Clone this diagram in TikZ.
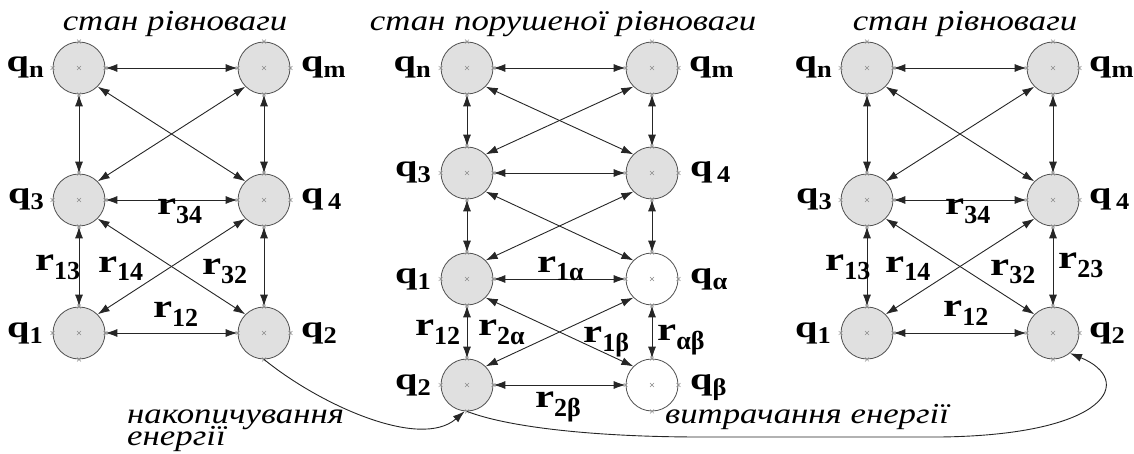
\documentclass[tikz,border=0pt]{standalone}
\usepackage{fontspec}
\usepackage{graphicx}
\setmainfont{Liberation Serif}
\usetikzlibrary{arrows.meta}
\definecolor{cfill}{RGB}{224,224,224}
\definecolor{cline}{RGB}{80,80,80}
\definecolor{cmark}{RGB}{140,140,140}
\newcommand{\ql}[1]{\bfseries\scalebox{1.3}[1]{\fontsize{31}{31}\selectfont q}\raisebox{-6pt}{\scalebox{1.1}[1]{\fontsize{24}{24}\selectfont #1}}}
\newcommand{\rl}[1]{\bfseries\scalebox{1.3}[1]{\fontsize{33}{33}\selectfont r}\raisebox{-9pt}{\fontsize{26}{26}\selectfont #1}}
\newcommand{\itx}[1]{\scalebox{1.2}[1]{\fontsize{29}{29}\selectfont\itshape #1}}
\newcommand{\mk}[1]{\foreach \a in {center,north,south,east,west}{\draw[cmark,line width=0.5pt] ([shift={(-2pt,-2pt)}]#1.\a) -- ([shift={(2pt,2pt)}]#1.\a) ([shift={(-2pt,2pt)}]#1.\a) -- ([shift={(2pt,-2pt)}]#1.\a);}}
\tikzset{
 st/.style={circle, draw=cline, fill=cfill, minimum size=52pt, inner sep=0pt, line width=0.8pt},
 stw/.style={st, fill=white},
 lk/.style={draw=black!85, line width=0.9pt, {Latex[length=12pt,width=8pt]}-{Latex[length=12pt,width=8pt]}},
 cv/.style={draw=black!85, line width=0.9pt, -{Latex[length=12pt,width=8pt]}},
 lbl/.style={inner sep=0pt, anchor=base west},
 ql/.style={inner sep=0pt},
 ttl/.style={inner sep=0pt, anchor=base},
}
\begin{document}
\begin{tikzpicture}[x=1pt,y=-1pt]
\path[use as bounding box] (0,0) rectangle (1134,454);
% ---------- left diagram
\node[st] (Ln) at (79,68) {};
\node[st] (Lm) at (264,68) {};
\node[st] (L3) at (79,200) {};
\node[st] (L4) at (264,200) {};
\node[st] (L1) at (79,333) {};
\node[st] (L2) at (264,333) {};
% ---------- middle diagram
\node[st] (Mn) at (467,68) {};
\node[st] (Mm) at (652,68) {};
\node[st] (M3) at (467,173) {};
\node[st] (M4) at (652,173) {};
\node[st] (M1) at (467,279) {};
\node[stw] (Ma) at (652,279) {};
\node[st] (M2) at (467,385) {};
\node[stw] (Mb) at (652,385) {};
% ---------- right diagram
\node[st] (Rn) at (867,68) {};
\node[st] (Rm) at (1053,68) {};
\node[st] (R3) at (867,200) {};
\node[st] (R4) at (1053,200) {};
\node[st] (R1) at (867,333) {};
\node[st] (R2) at (1053,333) {};
\foreach \n in {Ln,Lm,L3,L4,L1,L2,Mn,Mm,M3,M4,M1,Ma,M2,Mb,Rn,Rm,R3,R4,R1,R2}{\mk{\n}}
% ---------- links
\foreach \p in {L,R}{
 \draw[lk] (\p n.east) -- (\p m.west);
 \draw[lk] (\p n.south) -- (\p 3.north);
 \draw[lk] (\p m.south) -- (\p 4.north);
 \draw[lk] (\p n.-45) -- (\p 4.135);
 \draw[lk] (\p m.-135) -- (\p 3.45);
 \draw[lk] (\p 3.east) -- (\p 4.west);
 \draw[lk] (\p 3.south) -- (\p 1.north);
 \draw[lk] (\p 4.south) -- (\p 2.north);
 \draw[lk] (\p 3.-45) -- (\p 2.135);
 \draw[lk] (\p 4.-135) -- (\p 1.45);
 \draw[lk] (\p 1.east) -- (\p 2.west);
}
\draw[lk] (Mn.east) -- (Mm.west);
\draw[lk] (Mn.south) -- (M3.north);
\draw[lk] (Mm.south) -- (M4.north);
\draw[lk] (Mn.-45) -- (M4.135);
\draw[lk] (Mm.-135) -- (M3.45);
\draw[lk] (M3.east) -- (M4.west);
\draw[lk] (M3.south) -- (M1.north);
\draw[lk] (M4.south) -- (Ma.north);
\draw[lk] (M3.-45) -- (Ma.135);
\draw[lk] (M4.-135) -- (M1.45);
\draw[lk] (M1.east) -- (Ma.west);
\draw[lk] (M1.south) -- (M2.north);
\draw[lk] (Ma.south) -- (Mb.north);
\draw[lk] (M1.-45) -- (Mb.135);
\draw[lk] (Ma.-135) -- (M2.45);
\draw[lk] (M2.east) -- (Mb.west);
% ---------- curves
\coordinate (c1) at (700,437);
\coordinate (c2) at (940,437);
\draw[cv] (L2.south) .. controls (320,405) and (420,450) .. (M2.265);
\draw[cv] (M2.south) .. controls (510,428) and (600,437) .. (c1) -- (c2) .. controls (1110,435) and (1135,380) .. (R2.-50);
% ---------- q labels
\foreach \p/\dx in {L/0,R/788}{
 \node[ql,anchor=base east] (\p qn) at (44+\dx,72) {\ql{n}};
 \node[ql,anchor=base west] (\p qm) at (301+\dx,72) {\ql{m}};
 \node[ql,anchor=base east] (\p q3) at (44+\dx,204) {\ql{3}};
 \node[ql,anchor=base west] (\p q4) at (301+\dx,204) {\ql{\,4}};
 \node[ql,anchor=base east] (\p q1) at (43+\dx,337) {\ql{1}};
 \node[ql,anchor=base west] (\p q2) at (301+\dx,337) {\ql{2}};
}
\node[ql,anchor=base east] (Mqn) at (431,72) {\ql{n}};
\node[ql,anchor=base west] (Mqm) at (689,72) {\ql{m}};
\node[ql,anchor=base east] (Mq3) at (431,177) {\ql{3}};
\node[ql,anchor=base west] (Mq4) at (690,177) {\ql{\,4}};
\node[ql,anchor=base east] (Mq1) at (431,283) {\ql{1}};
\node[ql,anchor=base west] (Mqa) at (690,283) {\ql{α}};
\node[ql,anchor=base east] (Mq2) at (431,389) {\ql{2}};
\node[ql,anchor=base west] (Mqb) at (690,389) {\ql{β}};
% ---------- r labels
\node[lbl] (Lr34) at (157,215) {\rl{34}};
\node[lbl] (Lr13) at (35,270) {\rl{13}};
\node[lbl] (Lr14) at (98,272) {\rl{14}};
\node[lbl] (Lr32) at (202,274) {\rl{32}};
\node[lbl] (Lr12) at (153,317) {\rl{12}};
\node[lbl] (Rr34) at (945,215) {\rl{34}};
\node[lbl] (Rr13) at (825,270) {\rl{13}};
\node[lbl] (Rr14) at (885,272) {\rl{14}};
\node[lbl] (Rr32) at (990,275) {\rl{32}};
\node[lbl] (Rr23) at (1058,269) {\rl{23}};
\node[lbl] (Rr12) at (943,316) {\rl{12}};
\node[lbl] (Mr1a) at (537,272) {\rl{1α}};
\node[lbl] (Mr12) at (415,335) {\rl{12}};
\node[lbl] (Mr2a) at (478,335) {\rl{2α}};
\node[lbl] (Mr1b) at (583,342) {\rl{1β}};
\node[lbl] (Mrab) at (657,340) {\rl{αβ}};
\node[lbl] (Mr2b) at (535,407) {\rl{2β}};
% ---------- titles and captions
\node[ttl] (tL) at (175,31) {\itx{стан рівноваги}};
\node[ttl] (tM) at (563,31) {\itx{стан порушеної рівноваги}};
\node[ttl] (tR) at (965,31) {\itx{стан рівноваги}};
\node[inner sep=0pt, anchor=north west, align=left, font={\fontsize{29}{22}\selectfont\lineskiplimit=-50pt}] (acc) at (127,410) {\itx{накопичування}\\\itx{енергії}};
\node[ttl,anchor=base west] (spend) at (665,423) {\itx{витрачання енергії}};
\end{tikzpicture}
\end{document}
